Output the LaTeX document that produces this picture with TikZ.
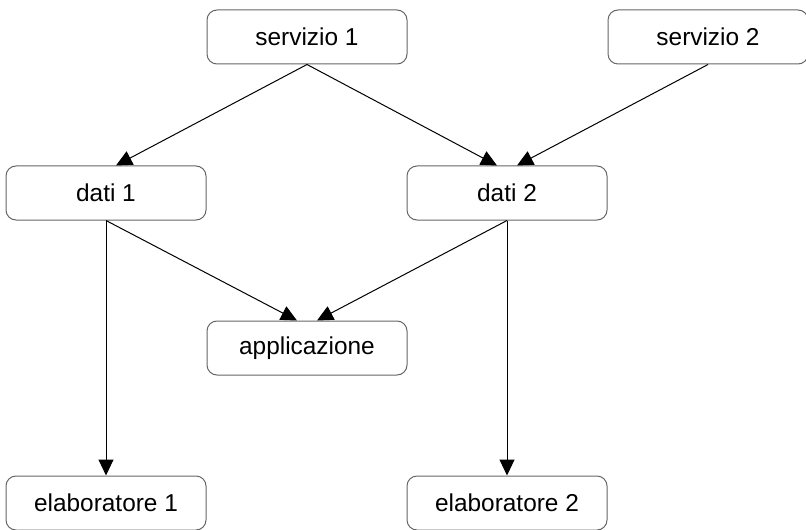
\documentclass[tikz,border=0pt]{standalone}
\usepackage{fontspec}
\setmainfont{Liberation Sans}
\usetikzlibrary{arrows.meta}
\usetikzlibrary{positioning}

\begin{document}
\begin{tikzpicture}[->,
            x=0.5pt, y=-0.5pt,
            >={Triangle[length=8pt,width=7.5pt]},
            line width=0.5pt,
            box/.style = {draw=black!60,rounded corners=5pt,fill=white,align=center,
                minimum width=100pt,minimum height=27pt,inner sep=0pt,
                font=\fontsize{12.2}{14}\selectfont}]
            \useasboundingbox (0,0) rectangle (806,529);
            \node[box] (serv1) at (307,37) {servizio 1};
            \node[box, right=100pt of serv1] (serv2) {servizio 2};
            \node[box, below left=50.5pt and 0pt of serv1] (dati1) {dati 1};
            \node[box, right=100pt of dati1] (dati2) {dati 2};
            \node[box, below right=50pt and 0pt of dati1] (app) {applicazione};
            \node[box, below=127.5pt of dati1] (elab1) {elaboratore 1};
            \node[box, below=127.5pt of dati2] (elab2) {elaboratore 2};
            \path[]
                (serv1.south) edge ([xshift=5pt]dati1.north)
                (serv1.south) edge ([xshift=-5pt]dati2.north)
                (serv2.south) edge ([xshift=5pt]dati2.north)
                (dati1.south) edge ([xshift=-5pt]app.north)
                (dati2.south) edge ([xshift=5pt]app.north)
                (dati1.south) edge (elab1)
                (dati2.south) edge (elab2);
        \end{tikzpicture}
\end{document}
